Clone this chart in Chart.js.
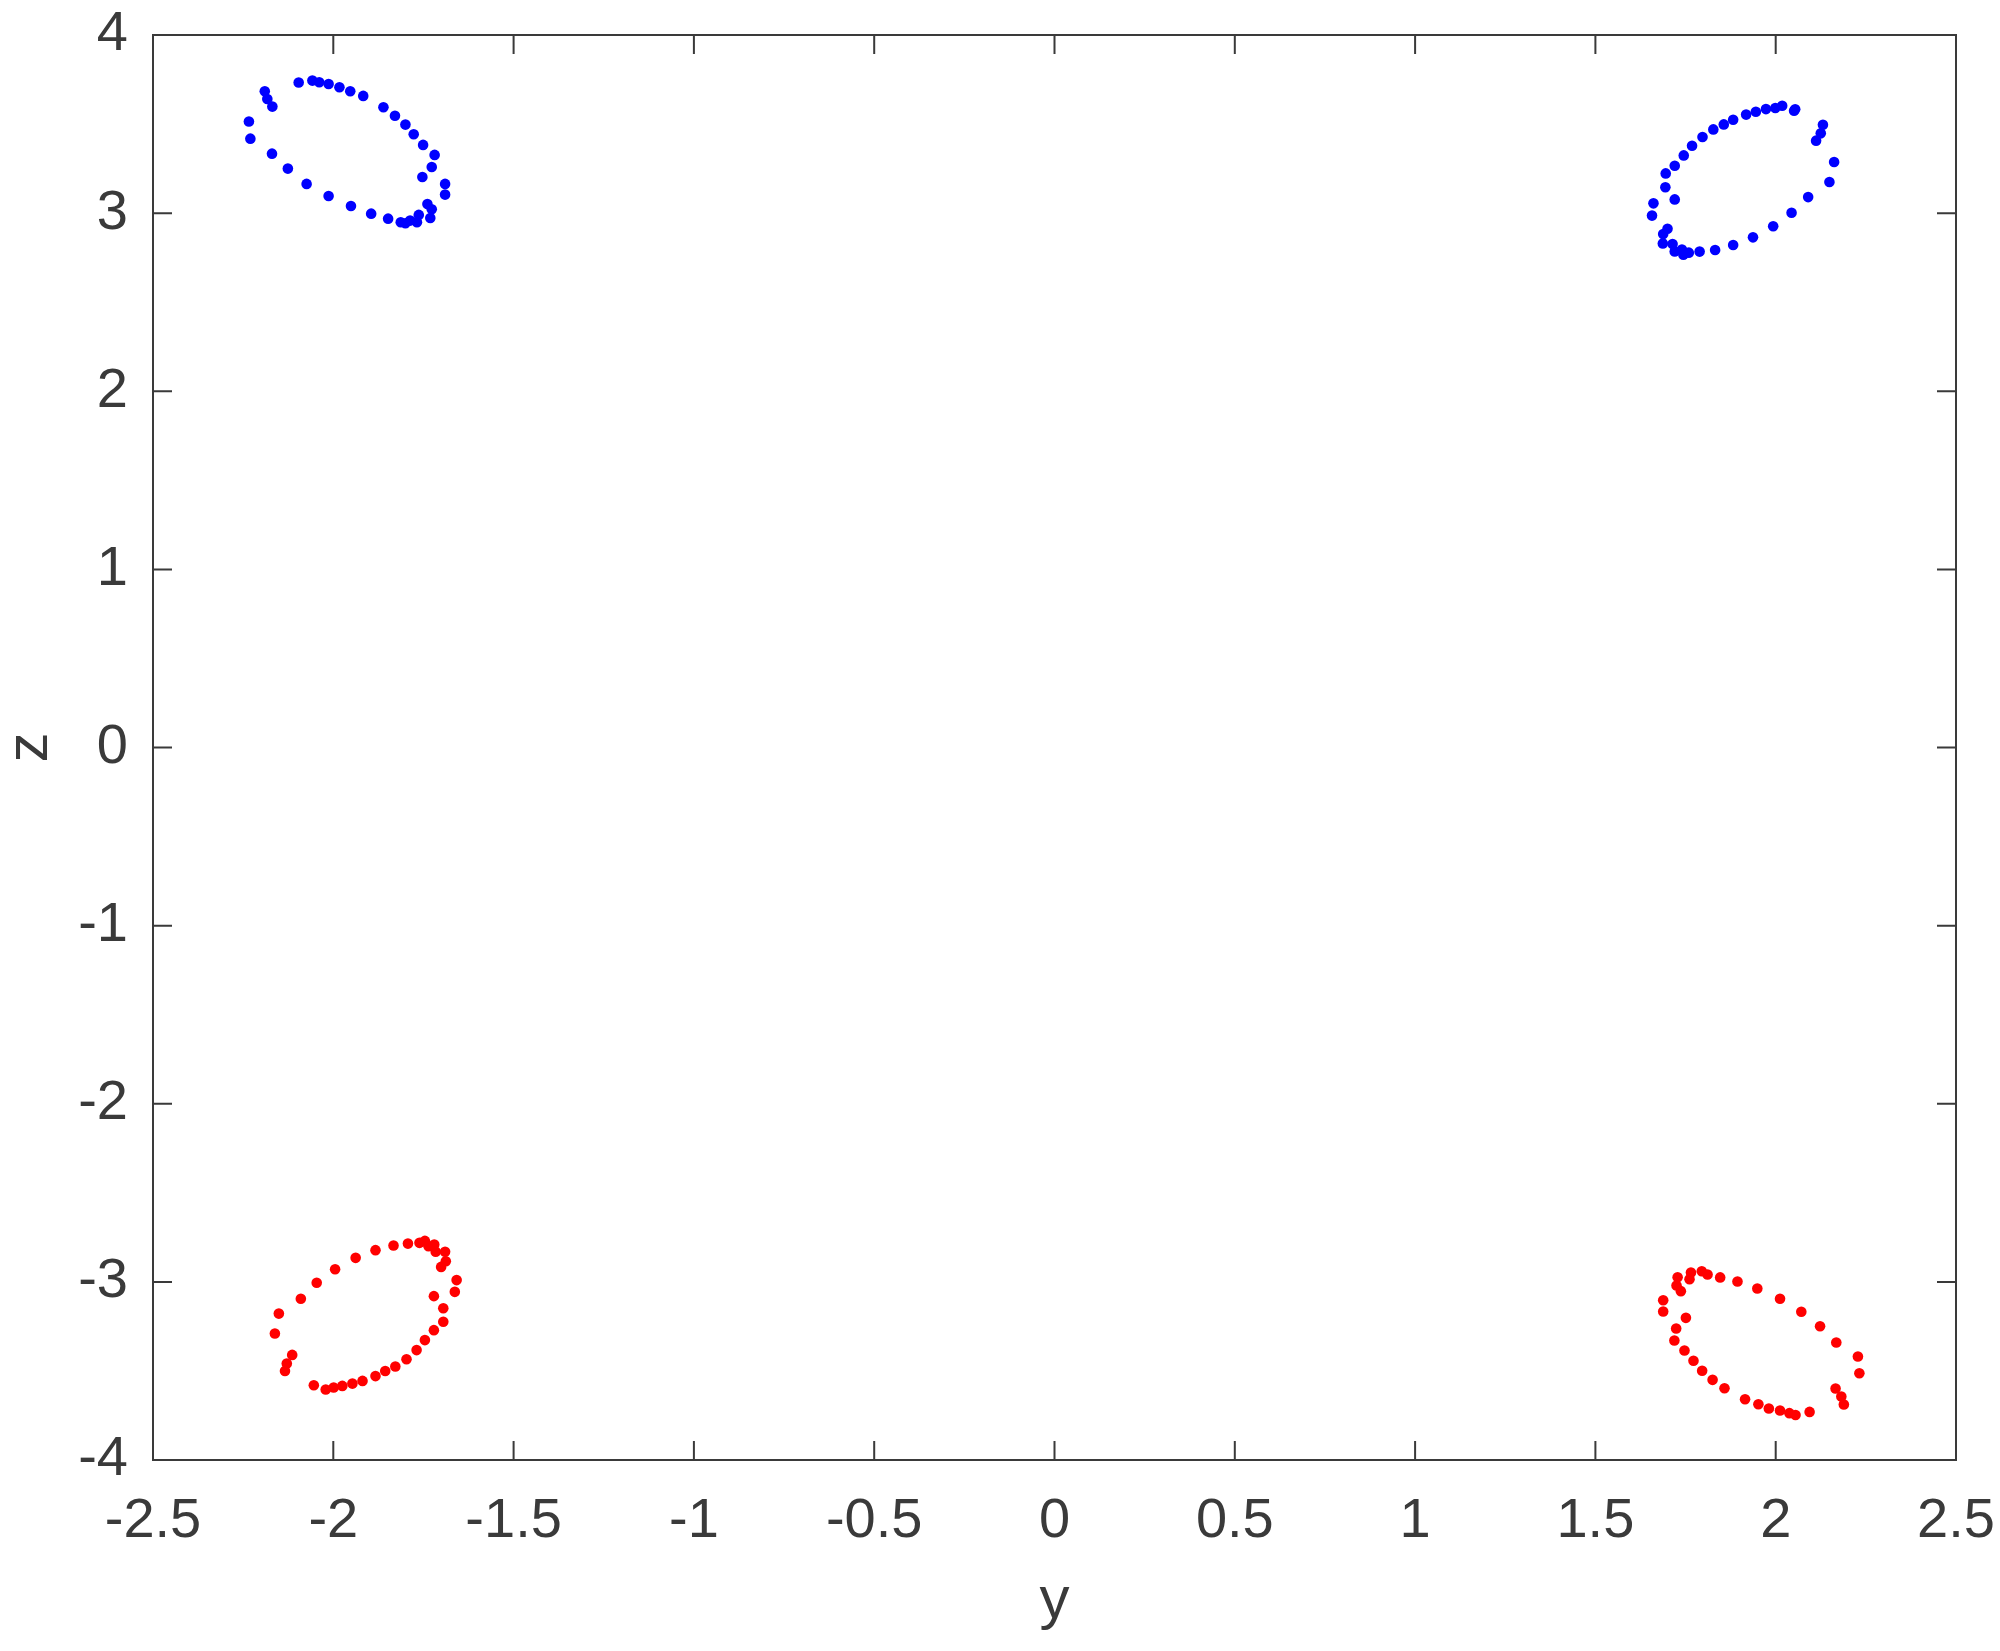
<!DOCTYPE html>
<html>
<head>
<meta charset="utf-8">
<script src="https://cdn.jsdelivr.net/npm/chart.js@4"></script>
<style>
  html, body { margin: 0; padding: 0; background: #ffffff; }
  canvas { display: block; }
</style>
</head>
<body>
<canvas id="chart" width="2000" height="1651"></canvas>
<script>
// Eixos
const xTicks = [-2.5, -2, -1.5, -1, -0.5, 0, 0.5, 1, 1.5, 2, 2.5];
const yTicks = [-4, -3, -2, -1, 0, 1, 2, 3, 4];
const xLabel = 'y';
const yLabel = 'z';

// Grupo azul, canto superior esquerdo
const blueLeftY = [-2.096, -2.058, -2.039, -2.013, -1.983, -1.953, -1.917, -1.861, -1.829, -1.800,
  -1.777, -1.751, -1.719, -1.727, -1.753, -1.690, -1.690, -1.739, -1.727, -1.731,
  -1.763, -1.768, -1.787, -1.800, -1.813, -1.848, -1.895, -1.951, -2.013, -2.074,
  -2.126, -2.170, -2.230, -2.234, -2.190, -2.183, -2.169];
const blueLeftZ = [3.733, 3.744, 3.735, 3.725, 3.707, 3.684, 3.658, 3.594, 3.547, 3.497,
  3.443, 3.383, 3.327, 3.259, 3.203, 3.164, 3.104, 3.051, 3.022, 2.973,
  2.990, 2.949, 2.958, 2.943, 2.949, 2.969, 2.997, 3.040, 3.096, 3.164,
  3.250, 3.334, 3.418, 3.514, 3.684, 3.641, 3.598];

// Grupo azul, canto superior direito
const blueRightY = [2.018, 1.999, 1.973, 1.945, 1.918, 1.882, 1.856, 1.827, 1.797, 1.768,
  1.745, 1.720, 1.695, 1.694, 1.720, 1.661, 1.657, 1.700, 1.688, 1.687,
  1.714, 1.720, 1.740, 1.744, 1.759, 1.789, 1.832, 1.882, 1.937, 1.993,
  2.044, 2.090, 2.149, 2.162, 2.112, 2.125, 2.131, 2.054, 2.051];
const blueRightZ = [3.603, 3.590, 3.584, 3.569, 3.553, 3.524, 3.498, 3.470, 3.427, 3.378,
  3.324, 3.266, 3.223, 3.145, 3.077, 3.055, 2.986, 2.912, 2.883, 2.830,
  2.826, 2.785, 2.796, 2.767, 2.778, 2.784, 2.793, 2.821, 2.864, 2.926,
  3.002, 3.090, 3.175, 3.287, 3.407, 3.448, 3.496, 3.583, 3.575];

// Grupo vermelho, canto inferior esquerdo
const redLeftY = [-1.793, -1.761, -1.746, -1.736, -1.720, -1.716, -1.690, -1.688, -1.701, -1.658,
  -1.663, -1.721, -1.695, -1.695, -1.721, -1.746, -1.769, -1.797, -1.828, -1.856,
  -1.883, -1.919, -1.947, -1.975, -1.999, -2.021, -2.054, -2.134, -2.129, -2.114,
  -2.162, -2.151, -2.090, -2.046, -1.995, -1.938, -1.883, -1.833];
const redLeftZ = [-2.785, -2.781, -2.770, -2.800, -2.790, -2.831, -2.831, -2.884, -2.916, -2.990,
  -3.056, -3.080, -3.148, -3.224, -3.271, -3.327, -3.383, -3.434, -3.475, -3.500,
  -3.529, -3.556, -3.571, -3.584, -3.593, -3.604, -3.580, -3.500, -3.458, -3.410,
  -3.290, -3.178, -3.095, -3.005, -2.929, -2.865, -2.822, -2.796];

// Grupo vermelho, canto inferior direito
const redRightY = [1.728, 1.765, 1.761, 1.795, 1.811, 1.846, 1.894, 1.949, 2.012, 2.071,
  2.123, 2.168, 2.228, 2.232, 2.166, 2.182, 2.189, 2.094, 2.055, 2.038,
  2.012, 1.981, 1.952, 1.915, 1.858, 1.825, 1.796, 1.772, 1.747, 1.719,
  1.724, 1.751, 1.688, 1.688, 1.725, 1.737];
const redRightZ = [-2.974, -2.947, -2.985, -2.940, -2.959, -2.975, -2.998, -3.037, -3.095, -3.168,
  -3.249, -3.340, -3.419, -3.513, -3.599, -3.644, -3.688, -3.730, -3.747, -3.737,
  -3.722, -3.711, -3.687, -3.659, -3.597, -3.550, -3.499, -3.443, -3.385, -3.329,
  -3.262, -3.202, -3.166, -3.103, -3.020, -3.052];

const axisColor = '#3a3a3a';
const fontFamily = '"Liberation Sans", Arial, Helvetica, sans-serif';

function toPoints(xs, ys) {
    return xs.map((x, i) => ({ x: x, y: ys[i] }));
}

// Zera o padding automático dos eixos (rótulos nas pontas)
function noScalePadding(scale) {
    scale.paddingTop = 0;
    scale.paddingBottom = 0;
    scale.paddingLeft = 0;
    scale.paddingRight = 0;
}

// Moldura e marcas internas nos quatro lados (estilo MATLAB)
const boxTicksPlugin = {
    id: 'boxTicks',
    afterDraw(chart) {
        const { ctx, chartArea: a, scales } = chart;
        const len = 19;
        ctx.save();
        ctx.strokeStyle = axisColor;
        ctx.lineWidth = 2;
        ctx.beginPath();
        xTicks.forEach(v => {
            const px = scales.x.getPixelForValue(v);
            ctx.moveTo(px, a.bottom);
            ctx.lineTo(px, a.bottom - len);
            ctx.moveTo(px, a.top);
            ctx.lineTo(px, a.top + len);
        });
        yTicks.forEach(v => {
            const py = scales.y.getPixelForValue(v);
            ctx.moveTo(a.left, py);
            ctx.lineTo(a.left + len, py);
            ctx.moveTo(a.right, py);
            ctx.lineTo(a.right - len, py);
        });
        ctx.stroke();
        ctx.strokeRect(a.left, a.top, a.right - a.left, a.bottom - a.top);
        ctx.restore();
    }
};

const ctx = document.getElementById('chart');
new Chart(ctx, {
    type: 'scatter',
    data: {
        datasets: [
            {
                label: 'azul',
                data: toPoints(blueLeftY, blueLeftZ).concat(toPoints(blueRightY, blueRightZ)),
                backgroundColor: '#0000ff',
                borderWidth: 0,
                pointRadius: 5.3,
                pointHoverRadius: 5.3
            },
            {
                label: 'vermelho',
                data: toPoints(redLeftY, redLeftZ).concat(toPoints(redRightY, redRightZ)),
                backgroundColor: '#ff0000',
                borderWidth: 0,
                pointRadius: 5.3,
                pointHoverRadius: 5.3
            }
        ]
    },
    options: {
        responsive: false,
        animation: false,
        events: [],
        layout: {
            padding: { left: 0, top: 35, right: 44, bottom: 0 }
        },
        plugins: {
            legend: { display: false },
            tooltip: { enabled: false }
        },
        scales: {
            x: {
                type: 'linear',
                min: -2.5,
                max: 2.5,
                afterBuildTicks: scale => { scale.ticks = xTicks.map(v => ({ value: v })); },
                afterFit: scale => { scale.height = 191; noScalePadding(scale); },
                grid: { display: false, drawTicks: false },
                border: { display: false },
                ticks: {
                    callback: v => String(v),
                    color: axisColor,
                    padding: 28,
                    maxRotation: 0,
                    autoSkip: false,
                    font: { family: fontFamily, size: 56, lineHeight: 1.2 }
                },
                title: {
                    display: true,
                    text: xLabel,
                    color: axisColor,
                    padding: { top: 0, bottom: 20 },
                    font: { family: fontFamily, size: 60, lineHeight: 1 }
                }
            },
            y: {
                type: 'linear',
                min: -4,
                max: 4,
                afterBuildTicks: scale => { scale.ticks = yTicks.map(v => ({ value: v })); },
                afterFit: scale => { scale.width = 153; noScalePadding(scale); },
                grid: { display: false, drawTicks: false },
                border: { display: false },
                ticks: {
                    callback: v => String(v),
                    color: axisColor,
                    padding: 25,
                    autoSkip: false,
                    font: { family: fontFamily, size: 56, lineHeight: 1.2 }
                },
                title: {
                    display: true,
                    text: yLabel,
                    color: axisColor,
                    padding: { top: 0, bottom: 0 },
                    font: { family: fontFamily, size: 60, lineHeight: 1 }
                }
            }
        }
    },
    plugins: [boxTicksPlugin]
});
</script>
</body>
</html>
